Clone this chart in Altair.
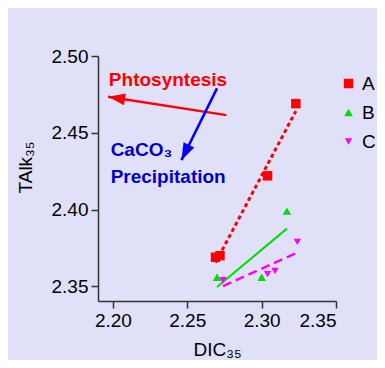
import altair as alt
import pandas as pd

# ---- data ----
groups = ["A", "B", "C"]
a_dic = [2.269, 2.272, 2.304, 2.323]
a_talk = [2.369, 2.370, 2.422, 2.469]
b_dic = [2.270, 2.300, 2.317]
b_talk = [2.356, 2.356, 2.399]
c_dic = [2.274, 2.304, 2.309, 2.324]
c_talk = [2.354, 2.358, 2.360, 2.379]

x_ticks = [2.20, 2.25, 2.30, 2.35]
y_ticks = [2.35, 2.40, 2.45, 2.50]

# annotation arrows in data units: [x_start, y_start, x_end, y_end]
photo_arrow = [2.2763, 2.4615, 2.1968, 2.4735]
caco3_arrow = [2.2700, 2.4789, 2.2461, 2.4322]

# annotation labels: (text, DIC, TAlk)
labels_red = [("Phtosyntesis", 2.1973, 2.4806)]
labels_blue = [("CaCO\u2083", 2.1985, 2.4348), ("Precipitation", 2.1985, 2.4174)]

colors = ["#FF0000", "#00DD00", "#FF00FF"]
shapes = ["square", "triangle-up", "triangle-down"]

rows = []
for g, xs_, ys_ in zip(groups, [a_dic, b_dic, c_dic], [a_talk, b_talk, c_talk]):
    for xv, yv in zip(xs_, ys_):
        rows.append({"group": g, "DIC": xv, "TAlk": yv})
df = pd.DataFrame(rows)

FONT = "Liberation Sans"

xs = alt.Scale(domain=[2.19, 2.35], nice=False, zero=False)
ys = alt.Scale(domain=[2.3405, 2.50], nice=False, zero=False)

x_axis = alt.Axis(values=x_ticks, format=".2f", title="DIC\u2083\u2085",
                  titleY=54, titleBaseline="alphabetic")
y_axis = alt.Axis(values=y_ticks, format=".2f", title="TAlk\u2083\u2085",
                  titleX=-67, titleY=111, titleAngle=-90,
                  titleBaseline="alphabetic", titleAlign="center")

X = alt.X("DIC:Q", scale=xs, axis=x_axis)
Y = alt.Y("TAlk:Q", scale=ys, axis=y_axis)

layers = []

# regression lines
line_styles = {
    "A": dict(color="#FF0000", strokeDash=[4, 3], strokeWidth=3),
    "B": dict(color="#00DD00", strokeWidth=2),
    "C": dict(color="#FF00FF", strokeDash=[9, 5], strokeWidth=2.5),
}
for g in groups:
    layers.append(
        alt.Chart(df)
        .transform_filter(alt.datum.group == g)
        .transform_regression("DIC", "TAlk")
        .mark_line(**line_styles[g])
        .encode(x=X, y=Y)
    )

# points
layers.append(
    alt.Chart(df)
    .mark_point(filled=True, opacity=1, strokeWidth=0)
    .encode(
        x=X,
        y=Y,
        color=alt.Color("group:N", scale=alt.Scale(domain=groups, range=colors),
                        legend=alt.Legend(title=None)),
        shape=alt.Shape("group:N", scale=alt.Scale(domain=groups, range=shapes),
                        legend=alt.Legend(title=None)),
        size=alt.Size("group:N", scale=alt.Scale(domain=groups, range=[90, 55, 55]),
                      legend=None),
    )
)

# arrows
head = "M0,0L0.7,2L-0.7,2Z"
for arr, col, ang in [(photo_arrow, "#FF0000", 279), (caco3_arrow, "#0000FF", 206)]:
    adf = pd.DataFrame([{"DIC": arr[0], "TAlk": arr[1], "DIC2": arr[2], "TAlk2": arr[3]}])
    layers.append(
        alt.Chart(adf).mark_rule(color=col, strokeWidth=2.5).encode(
            x=X, y=Y, x2="DIC2:Q", y2="TAlk2:Q")
    )
    layers.append(
        alt.Chart(adf).mark_point(shape=head, filled=True, opacity=1, size=289,
                                  color=col, angle=ang, strokeWidth=0).encode(
            x=alt.X("DIC2:Q", scale=xs, axis=x_axis),
            y=alt.Y("TAlk2:Q", scale=ys, axis=y_axis))
    )

# annotation text
for labs, col in [(labels_red, "#FF0000"), (labels_blue, "#0000CC")]:
    tdf = pd.DataFrame([{"label": t, "DIC": xv, "TAlk": yv} for t, xv, yv in labs])
    layers.append(
        alt.Chart(tdf).mark_text(align="left", baseline="alphabetic", fontSize=19,
                                 fontWeight="bold", font=FONT, color=col)
        .encode(x=X, y=Y, text="label:N")
    )

chart = (
    alt.layer(*layers)
    .properties(width=238, height=245,
                autosize=alt.AutoSizeParams(type="none"),
                padding={"left": 90, "top": 48, "right": 41, "bottom": 59},
                background="#E0E0F8")
    .configure_view(stroke=None)
    .configure_axis(
        grid=False, domainColor="#333333", domainWidth=1.5, tickColor="#333333",
        tickWidth=1.5, tickSize=7, labelFontSize=19, labelFont=FONT,
        labelColor="#000000", titleFont=FONT, titleFontSize=19,
        titleFontWeight="normal", titleColor="#000000", labelPadding=3,
    )
    .configure_legend(
        orient="none", legendX=241, legendY=18, labelFontSize=19, labelFont=FONT,
        labelColor="#000000", symbolSize=75, labelOffset=4, rowPadding=9,
        symbolStrokeWidth=0,
    )
)

chart.save("out.html", embed_options={"renderer": "svg", "actions": False})
